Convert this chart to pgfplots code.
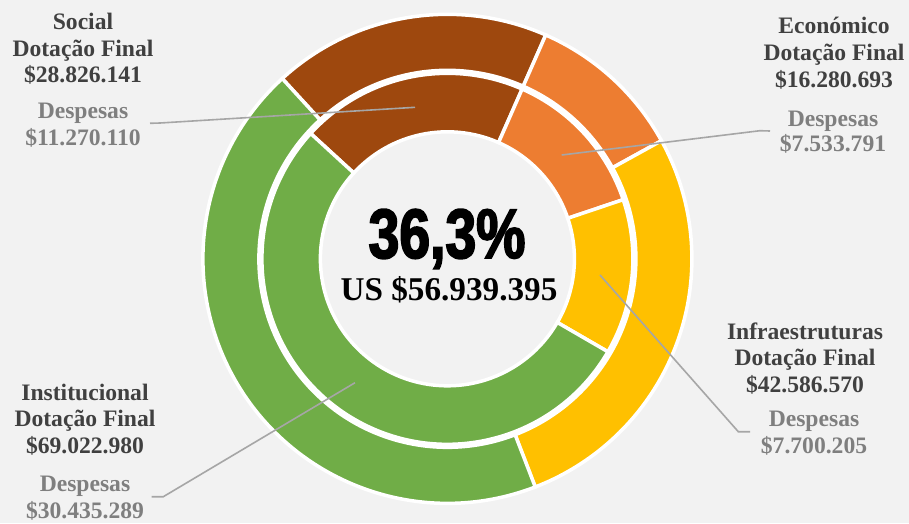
\documentclass[border=0pt]{standalone}
\usepackage{pgfplots}
\usepackage{pgfplotstable}
\pgfplotsset{compat=1.18}
\usepackage{fontspec}
\setmainfont{Liberation Serif}
\newfontfamily\bigfont[FakeStretch=0.79,FakeBold=2.5]{Liberation Sans}

\definecolor{bgc}{HTML}{F2F2F2}
\definecolor{c0}{HTML}{9E480E}
\definecolor{c1}{HTML}{ED7D31}
\definecolor{c2}{HTML}{FFC000}
\definecolor{c3}{HTML}{70AD47}
\definecolor{dark}{HTML}{404040}
\definecolor{mid}{HTML}{7F7F7F}
\definecolor{leader}{HTML}{A6A6A6}

% Dotação Final (outer ring) and Despesas (inner ring)
\pgfplotstableread{
name    dot       desp
Social  28826141  11270110
Econ    16280693  7533791
Infra   42586570  7700205
Inst    69022980  30435289
}\budget

% centre of the rings in picture units (1pt = 1px), y measured downwards
\def\cx{447.4}
\def\cy{258.8}
% first-slice angles, clockwise from the top
\def\so{-42.5}
\def\si{-47.5}

% one ring segment: start, end (deg clockwise from top), r in, r out, colour
\newcommand\slice[5]{%
  \fill[#5, draw=white, line width=3.5pt, line join=miter]
    (axis cs:{\cx+#4*sin(#1)},{\cy-#4*cos(#1)})
    arc[start angle={90-(#1)}, end angle={90-(#2)}, radius=#4pt]
    -- (axis cs:{\cx+#3*sin(#2)},{\cy-#3*cos(#2)})
    arc[start angle={90-(#2)}, end angle={90-(#1)}, radius=#3pt] -- cycle;}

\tikzset{
  lab/.style={anchor=base, text=dark, font=\fontsize{23.6}{27}\selectfont\bfseries, inner sep=0pt},
  dsp/.style={anchor=base, text=mid, font=\fontsize{23.6}{27}\selectfont\bfseries, inner sep=0pt},
}

\begin{document}
\begin{tikzpicture}
\xdef\totD{0}\xdef\totE{0}
\foreach \i in {0,...,3}{%
  \pgfplotstablegetelem{\i}{dot}\of\budget
  \xdef\totD{\fpeval{\totD+\pgfplotsretval}}%
  \pgfplotstablegetelem{\i}{desp}\of\budget
  \xdef\totE{\fpeval{\totE+\pgfplotsretval}}%
}
\xdef\cumD{0}\xdef\cumE{0}
\foreach \i in {0,...,3}{%
  \pgfplotstablegetelem{\i}{dot}\of\budget
  \expandafter\xdef\csname oa\i\endcsname{\fpeval{round(\so+360*\cumD/\totD,4)}}%
  \xdef\cumD{\fpeval{\cumD+\pgfplotsretval}}%
  \expandafter\xdef\csname ob\i\endcsname{\fpeval{round(\so+360*\cumD/\totD,4)}}%
  \pgfplotstablegetelem{\i}{desp}\of\budget
  \expandafter\xdef\csname ia\i\endcsname{\fpeval{round(\si+360*\cumE/\totE,4)}}%
  \xdef\cumE{\fpeval{\cumE+\pgfplotsretval}}%
  \expandafter\xdef\csname ib\i\endcsname{\fpeval{round(\si+360*\cumE/\totE,4)}}%
}
\begin{axis}[
    name=ax,
    x=1pt, y=1pt,
    xmin=0, xmax=909, ymin=0, ymax=523,
    y dir=reverse,
    hide axis, clip=false,
  ]
  \fill[bgc] (rel axis cs:0,0) rectangle (rel axis cs:1,1);
  \pgfplotsinvokeforeach{0,...,3}{%
    \slice{\csname oa#1\endcsname}{\csname ob#1\endcsname}{188.5}{244.5}{c#1}
    \slice{\csname ia#1\endcsname}{\csname ib#1\endcsname}{127}{185.5}{c#1}
  }

  % leader lines
  \addplot[leader, line width=1.6pt, no marks] coordinates {(150,123.3) (160,123) (415,107.3)};
  \addplot[leader, line width=1.6pt, no marks] coordinates {(770,131) (760,130.7) (561.7,155)};
  \addplot[leader, line width=1.6pt, no marks] coordinates {(750,431.7) (738.3,431.7) (600,275)};
  \addplot[leader, line width=1.6pt, no marks] coordinates {(151.7,496.7) (163.3,496.7) (355,382.7)};

  % centre
  \node[anchor=base, inner sep=0pt, font=\fontsize{70}{70}\selectfont\bigfont\bfseries] at (axis cs:447,258) {36,3\%};
  \node[anchor=base, inner sep=0pt, font=\fontsize{33.2}{36}\selectfont\bfseries] at (axis cs:449,300) {US \$56.939.395};

  % Social
  \node[lab] at (axis cs:83,29.3) {Social};
  \node[lab] at (axis cs:83,56) {Dotação Final};
  \node[lab] at (axis cs:83,82.7) {\$28.826.141};
  \node[dsp] at (axis cs:83,118.3) {Despesas};
  \node[dsp] at (axis cs:83,145.3) {\$11.270.110};
  % Económico
  \node[lab] at (axis cs:834,33.3) {Económico};
  \node[lab] at (axis cs:834,60) {Dotação Final};
  \node[lab] at (axis cs:834,87.3) {\$16.280.693};
  \node[dsp] at (axis cs:833,126) {Despesas};
  \node[dsp] at (axis cs:833,151.7) {\$7.533.791};
  % Infraestruturas
  \node[lab] at (axis cs:805,339.3) {Infraestruturas};
  \node[lab] at (axis cs:805,365) {Dotação Final};
  \node[lab] at (axis cs:805,392.7) {\$42.586.570};
  \node[dsp] at (axis cs:814,426.7) {Despesas};
  \node[dsp] at (axis cs:814,453.3) {\$7.700.205};
  % Institucional
  \node[lab] at (axis cs:85,400) {Institucional};
  \node[lab] at (axis cs:85,426.7) {Dotação Final};
  \node[lab] at (axis cs:85,453.3) {\$69.022.980};
  \node[dsp] at (axis cs:85,491.7) {Despesas};
  \node[dsp] at (axis cs:85,518.3) {\$30.435.289};
\end{axis}
\pgfresetboundingbox
\path (ax.south west) rectangle (ax.north east);
\end{tikzpicture}
\end{document}
